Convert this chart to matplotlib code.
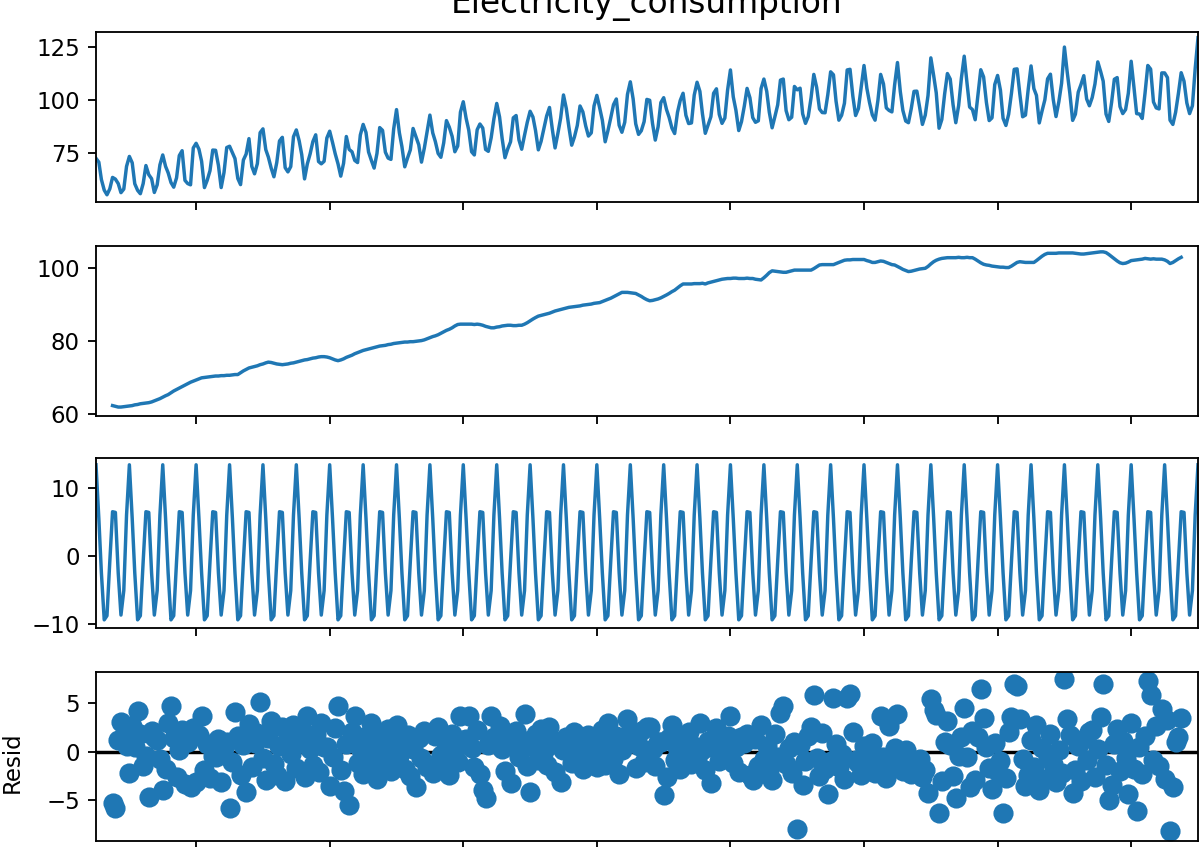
import numpy as np
import pandas as pd
import matplotlib
matplotlib.use('Agg')
import matplotlib.pyplot as plt
import matplotlib.dates as mdates

# Monthly electricity consumption, Jan 1985 - Jan 2018, additive decomposition (period 12)
dates = pd.date_range('1985-01-01', '2018-01-01', freq='MS')

# seasonal effect, Jan..Dec
seasonal_months = [13.4, 5.5, -2.5, -9.4, -8.8, -0.8, 6.5, 6.4, -2.5, -8.7, -5.1, 6.0]

# centred 2x12 moving average, Jul 1985 .. Jul 2017 (6 months lost at each end)
trend_vals = [
    62.3, 62.1, 61.9, 61.9, 62.0, 62.1,
    62.2, 62.3, 62.5, 62.6, 62.8, 62.9, 63.0, 63.1, 63.3, 63.6, 63.9, 64.2,
    64.6, 65.0, 65.3, 65.8, 66.3, 66.7, 67.1, 67.5, 67.9, 68.3, 68.7, 69.0,
    69.3, 69.6, 69.9, 70.0, 70.1, 70.2, 70.3, 70.4, 70.4, 70.5, 70.5, 70.6,
    70.6, 70.7, 70.8, 70.8, 71.3, 71.8, 72.2, 72.6, 72.8, 73.0, 73.2, 73.5,
    73.7, 74.0, 74.2, 74.1, 73.9, 73.7, 73.6, 73.5, 73.6, 73.7, 73.9, 74.0,
    74.2, 74.4, 74.6, 74.8, 74.9, 75.1, 75.3, 75.4, 75.6, 75.7, 75.7, 75.6,
    75.4, 75.1, 74.8, 74.6, 74.8, 75.1, 75.5, 75.8, 76.1, 76.5, 76.8, 77.1,
    77.4, 77.6, 77.8, 78.0, 78.2, 78.4, 78.6, 78.7, 78.8, 79.0, 79.1, 79.3,
    79.4, 79.5, 79.6, 79.7, 79.7, 79.8, 79.8, 79.9, 80.0, 80.1, 80.3, 80.6,
    80.9, 81.2, 81.4, 81.7, 82.1, 82.5, 82.9, 83.2, 83.6, 84.1, 84.5, 84.6,
    84.6, 84.6, 84.6, 84.6, 84.5, 84.6, 84.5, 84.3, 84.0, 83.8, 83.6, 83.6,
    83.8, 83.9, 84.1, 84.2, 84.3, 84.3, 84.2, 84.2, 84.3, 84.3, 84.6, 85.0,
    85.5, 86.0, 86.4, 86.8, 87.0, 87.2, 87.4, 87.6, 87.9, 88.2, 88.4, 88.6,
    88.8, 89.0, 89.2, 89.3, 89.4, 89.5, 89.6, 89.8, 89.9, 90.0, 90.1, 90.3,
    90.4, 90.5, 90.8, 91.1, 91.4, 91.7, 92.1, 92.5, 92.9, 93.3, 93.3, 93.3,
    93.2, 93.1, 93.0, 92.6, 92.2, 91.7, 91.3, 91.0, 91.1, 91.3, 91.5, 91.8,
    92.2, 92.6, 93.0, 93.5, 93.9, 94.5, 95.1, 95.6, 95.6, 95.6, 95.6, 95.7,
    95.7, 95.7, 95.8, 95.6, 95.9, 96.1, 96.3, 96.5, 96.7, 96.9, 97.0, 97.1,
    97.1, 97.2, 97.2, 97.1, 97.1, 97.1, 97.2, 97.1, 97.1, 96.9, 96.8, 96.7,
    97.3, 98.0, 98.7, 99.2, 99.1, 99.0, 98.9, 98.8, 98.8, 99.0, 99.2, 99.4,
    99.4, 99.4, 99.4, 99.4, 99.4, 99.4, 99.8, 100.3, 100.8, 100.9, 100.9, 100.9,
    100.9, 100.9, 101.2, 101.5, 101.8, 102.1, 102.2, 102.2, 102.3, 102.3, 102.3, 102.3,
    102.3, 102.0, 101.8, 101.5, 101.5, 101.7, 101.9, 101.8, 101.5, 101.2, 100.9, 100.8,
    100.4, 100.0, 99.6, 99.3, 99.0, 99.1, 99.3, 99.5, 99.7, 99.8, 99.9, 100.4,
    101.1, 101.7, 102.1, 102.4, 102.6, 102.7, 102.8, 102.8, 102.8, 102.8, 102.9, 102.8,
    102.8, 102.9, 102.8, 102.8, 102.4, 101.9, 101.4, 101.0, 100.8, 100.7, 100.5, 100.4,
    100.3, 100.2, 100.2, 100.1, 100.1, 100.5, 101.0, 101.5, 101.7, 101.6, 101.5, 101.5,
    101.5, 101.5, 102.0, 102.6, 103.2, 103.7, 104.0, 104.0, 104.0, 104.0, 104.1, 104.1,
    104.1, 104.1, 104.1, 104.1, 104.0, 103.9, 103.8, 103.8, 103.9, 104.0, 104.1, 104.2,
    104.3, 104.4, 104.4, 104.2, 103.7, 103.1, 102.5, 101.9, 101.4, 101.2, 101.3, 101.6,
    102.0, 102.1, 102.2, 102.3, 102.4, 102.6, 102.5, 102.4, 102.5, 102.4, 102.4, 102.4,
    102.2, 101.8, 101.2, 101.5, 102.0, 102.5, 102.9,
]

# residuals over the same months as the trend
resid_vals = [
    -5.3, -5.8, 1.2, 3.1, 1.1, 0.6,
    -2.2, 2.6, 0.5, 4.2, 1.8, -1.5, -0.4, -4.7, 2.1, 1.5, 1.2, -0.8,
    -3.9, -1.8, 2.9, 4.7, 1.4, -2.6, 0.2, 2.2, -3.3, 1.0, -3.6, 2.4,
    -3.1, 1.7, 3.7, -1.9, 0.8, -2.7, -0.4, -0.5, 1.3, -3.1, 0.4, 1.0,
    -5.8, -1.1, 4.1, 1.6, -2.4, 0.7, -4.2, 2.8, -1.6, 0.9, 1.9, 5.1,
    -0.7, -2.9, 1.4, 3.2, -1.3, -2.4, 0.6, 2.5, -3.0, 1.1, -0.2, 2.7,
    -1.7, 0.9, 2.2, -2.6, 3.7, 0.3, -1.4, 1.8, -2.1, 2.9, 0.5, 0.5,
    -3.5, -0.6, 2.4, 4.7, -1.9, -4.1, 0.8, -5.5, 2.0, 3.7, -1.2, 0.4,
    -2.3, 1.6, 0.2, 2.9, -1.5, -2.8, 1.9, 0.6, -0.9, 2.3, -2.0, 1.1,
    2.7, -0.4, 0.9, -1.8, 1.7, -2.5, 0.3, -3.6, 1.4, -0.7, 2.1, -1.6,
    -1.4, -2.2, 1.6, 2.5, -0.3, -1.9, 0.9, -2.4, 1.8, 0.2, -1.1, 3.7,
    1.2, 1.3, 3.7, 0.4, -1.6, 2.2, -2.3, -3.9, -4.8, 0.7, 3.7, 1.5,
    1.2, 2.6, 0.3, -2.0, 1.4, -3.2, 0.9, 2.1, -0.6, 1.2, 3.9, -1.5,
    -4.2, 0.5, 1.8, -0.9, 2.3, 0.1, -1.4, 2.5, 0.8, -2.1, 1.0, -3.1,
    0.2, 1.5, 0.6, -1.2, 2.0, -0.7, 1.1, -1.8, 0.4, 1.7, -0.5, 0.9,
    -1.6, 0.3, 2.2, -1.4, 2.9, 0.7, -0.8, 1.6, -2.3, 0.2, 1.3, 3.4,
    2.0, 1.9, -1.7, 0.6, 2.1, -1.1, 2.5, 2.5, 0.3, -1.5, 1.0, 1.0,
    -4.5, -2.6, 1.4, 2.7, -0.9, 0.5, -1.8, 1.2, -0.3, 2.0, -1.3, 0.6,
    -0.7, 2.9, 0.2, -1.9, 1.1, -3.2, 0.4, 2.4, -1.0, 0.8, -0.4, 1.6,
    3.7, -1.2, 0.5, -2.1, 1.5, 0.9, 1.8, -2.4, -2.9, 1.3, -1.5, 2.7,
    -0.8, 0.6, -1.9, -2.9, 1.8, -0.5, 4.0, 4.7, -1.3, 0.4, -2.2, 1.0,
    -8.0, 0.7, -3.4, -1.0, 1.6, 2.5, 5.8, -0.7, -2.5, 1.9, -1.8, -4.4,
    -1.0, 5.5, 0.8, -1.6, -0.2, -2.8, 5.5, 5.9, 2.0, -0.9, -1.2, -2.4,
    0.6, -1.9, -0.4, 0.9, -2.2, -1.1, 3.7, -0.6, -2.7, 2.6, -1.4, 0.4,
    3.9, -1.5, -2.0, 0.2, -0.9, -2.3, -1.7, -1.7, -0.8, -2.6, -1.9, -4.3,
    5.4, 4.3, 3.8, -6.3, -3.0, 1.0, 3.2, 0.7, -2.5, -4.8, -0.4, 1.5,
    4.5, -0.6, -3.6, 2.1, -2.9, 1.5, 6.4, 3.5, 0.5, -1.7, -3.8, 0.9,
    -2.1, -1.0, -6.3, -2.7, 2.0, 3.6, 7.0, 6.8, 3.4, -0.8, -3.5, -2.4,
    1.2, -1.6, 2.7, -4.0, 0.4, -2.8, -0.5, 1.8, -1.3, -3.1, 0.2, -2.2,
    7.5, 3.4, 1.7, -4.3, -1.9, 0.6, -3.0, 1.3, -0.9, 2.0, 2.2, -2.6,
    0.3, 3.6, 7.0, -1.4, -5.0, -3.4, 0.8, 2.3, -2.0, 1.1, -0.7, -4.4,
    2.9, -1.8, -6.1, 0.5, -2.3, 1.6, 7.3, 5.8, -0.9, 2.6, -1.5, 4.4,
    -2.8, 3.3, -8.2, -3.6, 1.0, 1.5, 3.5,
]

# observed values where the moving average is undefined
observed_head = [72.5, 70.7, 62.5, 57.5, 55.3, 58.1]
observed_tail = [108.9, 98.6, 93.6, 97.3, 114.7, 129.4]

n = len(dates)
mid = slice(6, n - 6)
seasonal = np.resize(np.array(seasonal_months), n)
trend = np.full(n, np.nan)
trend[mid] = trend_vals
resid = np.full(n, np.nan)
resid[mid] = resid_vals
observed = np.concatenate([observed_head,
                           trend[mid] + seasonal[mid] + resid[mid],
                           observed_tail])

DPI = 165
W, H = 1201, 847
fig = plt.figure(figsize=(W / DPI, H / DPI), dpi=DPI)


def panel(top, bottom, share=None):
    # axes placed by pixel rows, all spanning the same columns
    return fig.add_axes([96 / W, 1 - bottom / H, 1102 / W, (bottom - top) / H],
                        sharex=share)


ax1 = panel(32, 202)
ax2 = panel(246, 416, ax1)
ax3 = panel(458, 628, ax1)
ax4 = panel(672, 841, ax1)

ax1.plot(dates, observed)
ax1.set_title('Electricity_consumption', fontsize=14.3, pad=8.5)
ax1.set_ylim(51.9, 132.1)
ax1.set_yticks([75, 100, 125])

ax2.plot(dates, trend)
ax2.set_ylim(59.45, 106.0)
ax2.set_yticks([60, 80, 100])

ax3.plot(dates, seasonal)
ax3.set_ylim(-10.6, 14.4)
ax3.set_yticks([-10, 0, 10])

ax4.plot(dates, resid, marker='o', linestyle='none', markersize=7.8)
ax4.plot([dates[0], dates[-1]], [0, 0], color='#000000', zorder=-3)
ax4.set_ylim(-9.2, 8.2)
ax4.set_yticks([-5, 0, 5])
ax4.set_ylabel('Resid')
ax4.yaxis.set_label_coords(-0.066, 0.465)

ax1.set_xlim(dates[0], dates[-1])
ax1.xaxis.set_major_locator(mdates.YearLocator(4))
ax1.xaxis.set_major_formatter(mdates.DateFormatter('%Y'))
for ax in (ax1, ax2, ax3):
    ax.tick_params(labelbottom=False)

fig.savefig('out.png', dpi=DPI)
